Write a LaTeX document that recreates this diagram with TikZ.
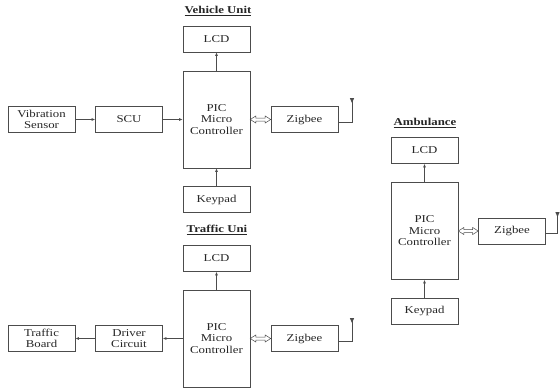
\documentclass[tikz,border=0pt]{standalone}
\usepackage{fontspec}
\setmainfont{Liberation Serif}[FakeStretch=1.22]
\usetikzlibrary{arrows.meta,calc}
\newcommand\hollowdbl[2]{%
  \draw[black!70, line width=0.5pt, fill=white]
    (#1.east) -- ++(5.5,-3.5) -- ++(0,2) -- ($(#2.west)+(-5.5,-1.5)$) -- ++(0,-2)
    -- (#2.west) -- ++(-5.5,3.5) -- ++(0,-2) -- ($(#1.east)+(5.5,1.5)$) -- ++(0,2) -- cycle;}
\begin{document}
\begin{tikzpicture}[x=1pt,y=-1pt,
  every node/.style={font=\fontsize{10.5}{11.5}\selectfont, text=black!85},
  box/.style={draw=black!70, line width=0.6pt, inner sep=0pt, minimum width=67pt, minimum height=26pt, align=center},
  picbox/.style={box, minimum height=97pt},
  ttl/.style={font=\fontsize{10.5}{12}\selectfont\bfseries},
  arr/.style={draw=black!70, line width=0.6pt, -{Latex[length=3.5pt,width=2.8pt]}},
  antline/.style={draw=black!70, line width=0.6pt},
  anttip/.style={fill=black!70}]
\useasboundingbox (0,0) rectangle (560,391);

% Vehicle Unit
\node[ttl] (t1) at (218,11) {\underline{Vehicle Unit}};
\node[box] (lcd1) at (216.5,39) {LCD};
\node[picbox] (pic1) at (216.5,119.5) {PIC\\Micro\\Controller};
\node[box] (vib) at (41.5,119.5) {Vibration\\Sensor};
\node[box] (scu) at (129,119.5) {SCU};
\node[box] (key1) at (216.5,199.5) {Keypad};
\node[box] (zig1) at (304.5,119.5) {Zigbee};
\coordinate (ant1) at (352,98);
\draw[arr] (vib) -- (scu);
\draw[arr] (scu) -- (pic1);
\draw[arr] (pic1) -- (lcd1);
\draw[arr] (key1) -- (pic1);
\hollowdbl{pic1}{zig1}
\draw[antline] ([yshift=-2.5pt]zig1.east) -| (ant1);
\fill[anttip] (ant1) ++(-2.2,0) -- ++(4.4,0) -- ++(-2.2,5) -- cycle;

% Traffic Unit
\node[ttl] (t2) at (217,230) {\underline{Traffic Uni}};
\node[box] (lcd2) at (216.5,258.5) {LCD};
\node[picbox] (pic2) at (216.5,338.5) {PIC\\Micro\\Controller};
\node[box] (tb) at (41.5,338.5) {Traffic\\Board};
\node[box] (drv) at (129,338.5) {Driver\\Circuit};
\node[box] (zig2) at (304.5,338.5) {Zigbee};
\coordinate (ant2) at (352,318);
\draw[arr] (pic2) -- (drv);
\draw[arr] (drv) -- (tb);
\draw[arr] (pic2) -- (lcd2);
\hollowdbl{pic2}{zig2}
\draw[antline] ([yshift=-2.5pt]zig2.east) -| (ant2);
\fill[anttip] (ant2) ++(-2.2,0) -- ++(4.4,0) -- ++(-2.2,5) -- cycle;

% Ambulance
\node[ttl] (t3) at (425,123) {\underline{Ambulance}};
\node[box] (lcd3) at (424.5,150.5) {LCD};
\node[picbox] (pic3) at (424.5,231) {PIC\\Micro\\Controller};
\node[box] (key3) at (424.5,311) {Keypad};
\node[box] (zig3) at (512,231) {Zigbee};
\coordinate (ant3) at (557.5,212);
\draw[arr] (pic3) -- (lcd3);
\draw[arr] (key3) -- (pic3);
\hollowdbl{pic3}{zig3}
\draw[antline] ([yshift=-2.5pt]zig3.east) -| (ant3);
\fill[anttip] (ant3) ++(-2.2,0) -- ++(4.4,0) -- ++(-2.2,5) -- cycle;
\end{tikzpicture}
\end{document}
